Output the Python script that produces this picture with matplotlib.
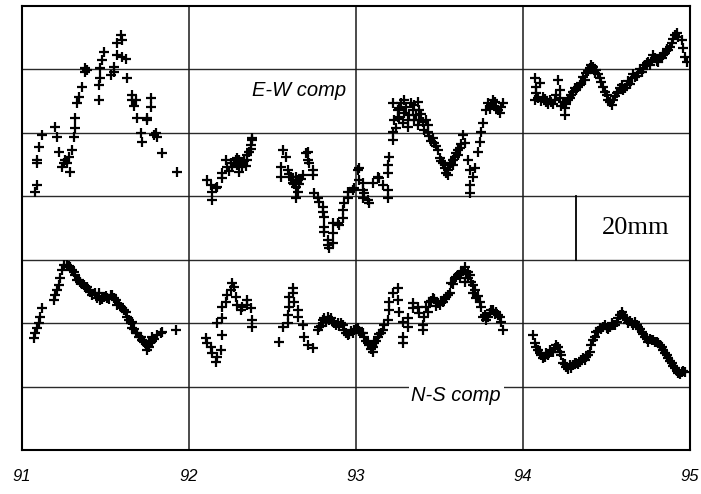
import matplotlib
matplotlib.use("Agg")
import matplotlib.pyplot as plt

# ---------------- data (decimal year, displacement in mm) ----------------
ew_years = [
    91.08, 91.09, 91.09, 91.09, 91.10, 91.12, 91.20, 91.21, 91.22, 91.24, 91.25, 91.26,
    91.27, 91.28, 91.29, 91.30, 91.31, 91.32, 91.32, 91.33, 91.34, 91.36, 91.38, 91.38,
    91.39, 91.46, 91.46, 91.47, 91.47, 91.48, 91.49, 91.53, 91.55, 91.55, 91.57, 91.57,
    91.59, 91.60, 91.60, 91.62, 91.63, 91.66, 91.66, 91.67, 91.68, 91.69, 91.71, 91.72,
    91.75, 91.75, 91.77, 91.77, 91.79, 91.80, 91.81, 91.84, 91.93,
    92.11, 92.13, 92.14, 92.14, 92.16, 92.17, 92.20, 92.20, 92.22, 92.23, 92.25, 92.26,
    92.28, 92.29, 92.29, 92.30, 92.31, 92.32, 92.32, 92.35, 92.35, 92.37, 92.38, 92.38,
    92.24, 92.27, 92.30, 92.33, 92.34, 92.36, 92.37,
    92.55, 92.55, 92.56, 92.58, 92.59, 92.61, 92.62, 92.62, 92.64, 92.64, 92.65, 92.65,
    92.60, 92.63, 92.64, 92.66, 92.67,
    92.68, 92.70, 92.71, 92.71, 92.72, 92.74, 92.74, 92.75, 92.77, 92.78, 92.80, 92.80,
    92.81, 92.81, 92.81, 92.83, 92.83, 92.84, 92.86, 92.86, 92.86, 92.89, 92.90, 92.92,
    92.92, 92.93, 92.95, 92.95, 92.98, 92.99, 93.01, 93.02, 93.02, 93.04, 93.04, 93.04,
    93.05, 93.07, 93.08, 93.10, 93.13, 93.14, 93.16, 93.19, 93.19, 93.19, 93.19, 93.20,
    93.22, 93.22, 93.23, 93.22, 93.25, 93.25, 93.26, 93.28, 93.29, 93.29, 93.31, 93.32,
    93.34, 93.35, 93.35, 93.37, 93.38, 93.38, 93.40, 93.43, 93.43, 93.46, 93.47, 93.49,
    93.24, 93.26, 93.27, 93.30, 93.31, 93.33, 93.36, 93.37, 93.39, 93.41, 93.42, 93.44,
    93.45, 93.48, 93.51, 93.53, 93.54, 93.56, 93.57, 93.60, 93.63,
    93.50, 93.52, 93.55, 93.55, 93.58, 93.58, 93.59, 93.61, 93.61, 93.62, 93.64, 93.65,
    93.67, 93.68, 93.70, 93.68, 93.68, 93.71, 93.73, 93.74, 93.75, 93.76, 93.78, 93.79,
    93.81, 93.83, 93.85, 93.86, 93.87, 93.88, 93.80, 93.82, 93.84,
    94.07, 94.08, 94.09, 94.07, 94.10, 94.12, 94.14, 94.17, 94.19, 94.21, 94.22, 94.22,
    94.24, 94.25, 94.25, 94.27, 94.29, 94.31, 94.33, 94.35, 94.37, 94.38, 94.40, 94.42,
    94.44, 94.46, 94.48, 94.50, 94.52, 94.54, 94.56, 94.58, 94.60, 94.62, 94.65, 94.67,
    94.69, 94.71, 94.73, 94.75, 94.77, 94.79, 94.81, 94.83, 94.85, 94.87, 94.89, 94.91,
    94.93, 94.95, 94.96, 94.97, 94.98,
    94.08, 94.11, 94.13, 94.15, 94.16, 94.18, 94.20, 94.23, 94.26, 94.28, 94.30, 94.32,
    94.34, 94.36, 94.39, 94.41, 94.43, 94.45, 94.47, 94.49, 94.51, 94.53, 94.55, 94.57,
    94.59, 94.61, 94.63, 94.64, 94.66, 94.68, 94.70, 94.72, 94.74, 94.76, 94.78, 94.80,
    94.82, 94.84, 94.86, 94.88, 94.90, 94.92,
]
ew_mm = [
    81.3, 83.6, 91.4, 90.5, 95.5, 99.3, 101.8, 98.7, 94.0, 89.2, 90.5, 91.4,
    90.5, 92.4, 87.7, 94.6, 98.7, 101.5, 104.7, 109.4, 111.3, 114.5, 120.4, 119.2,
    119.8, 110.4, 115.1, 117.3, 120.4, 123.0, 125.5, 118.2, 119.2, 120.8, 124.5, 128.3,
    130.8, 129.3, 123.9, 123.3, 117.3, 111.9, 110.4, 108.5, 110.4, 104.7, 99.9, 97.1,
    104.0, 104.7, 108.1, 111.0, 99.3, 99.9, 98.7, 93.6, 87.7,
    85.1, 83.6, 81.3, 78.8, 82.6, 82.9, 85.8, 87.3, 91.4, 89.2, 90.5, 89.2,
    91.4, 89.9, 92.1, 87.7, 90.5, 90.8, 89.2, 91.4, 93.0, 96.2, 97.7, 98.4,
    88.0, 90.5, 91.5, 91.0, 89.5, 94.0, 95.0,
    89.2, 86.1, 94.6, 92.4, 88.3, 86.1, 84.2, 85.1, 82.9, 79.5, 81.3, 85.1,
    87.0, 84.0, 86.0, 84.0, 85.5,
    86.7, 93.6, 94.0, 91.4, 90.5, 88.3, 86.7, 81.0, 79.5, 78.2, 76.6, 75.0,
    73.5, 70.3, 68.7, 66.2, 64.6, 63.7, 65.3, 68.4, 71.6, 71.6, 70.9, 73.1,
    75.7, 77.9, 79.5, 81.3, 82.0, 82.6, 88.3, 88.9, 85.1, 84.2, 82.0, 79.5,
    81.0, 78.8, 77.9, 84.2, 86.1, 85.8, 83.6, 82.0, 79.5, 87.3, 89.9, 92.4,
    97.7, 100.3, 104.0, 109.4, 107.2, 105.0, 107.8, 103.1, 110.4, 106.3, 104.0, 105.6,
    107.2, 104.0, 108.8, 109.7, 107.2, 104.0, 103.4, 102.5, 100.3, 98.4, 96.8, 94.6,
    101.5, 104.5, 109.5, 108.0, 102.0, 109.5, 105.5, 102.5, 106.0, 101.0, 104.0, 99.0,
    97.5, 96.0, 91.0, 89.0, 87.5, 90.0, 90.5, 93.5, 96.5,
    92.1, 90.5, 88.3, 86.7, 91.4, 89.9, 92.4, 94.6, 93.0, 95.2, 99.3, 96.8,
    91.4, 88.3, 86.1, 83.6, 81.0, 88.9, 94.0, 97.1, 100.3, 103.1, 107.2, 109.4,
    108.8, 109.7, 107.2, 106.3, 108.1, 109.4, 107.5, 110.5, 108.0,
    117.3, 114.5, 111.0, 110.4, 115.7, 111.3, 109.7, 109.7, 110.4, 116.7, 113.5, 111.0,
    109.7, 107.8, 105.6, 110.4, 111.9, 114.1, 114.5, 115.7, 116.7, 118.9, 120.4, 120.8,
    119.8, 117.3, 114.5, 111.9, 109.7, 110.4, 112.6, 114.1, 113.5, 115.1, 117.3, 117.6,
    118.9, 119.2, 121.4, 122.3, 123.0, 123.6, 122.3, 123.6, 125.2, 126.1, 128.3, 130.8,
    130.2, 129.3, 126.8, 123.9, 122.3,
    112.5, 110.0, 110.8, 109.0, 110.5, 109.0, 112.0, 108.5, 109.0, 111.0, 113.0, 113.5,
    115.0, 117.5, 119.5, 121.5, 119.0, 118.5, 116.0, 113.0, 110.5, 108.8, 111.5, 113.0,
    115.0, 114.0, 116.5, 115.5, 118.5, 118.0, 120.0, 120.0, 122.0, 121.5, 124.5, 122.8,
    124.0, 124.5, 126.5, 127.0, 129.5, 131.5,
]

ns_years = [
    91.07, 91.08, 91.09, 91.10, 91.11, 91.12, 91.19, 91.20, 91.21, 91.22, 91.23, 91.24,
    91.25, 91.27, 91.29, 91.30, 91.32, 91.33, 91.35, 91.37, 91.39, 91.41, 91.44, 91.46,
    91.47, 91.49, 91.51, 91.54, 91.56, 91.57, 91.60, 91.62, 91.63, 91.66, 91.66, 91.69,
    91.71, 91.72, 91.75, 91.75, 91.77, 91.78, 91.81, 91.83, 91.84, 91.92,
    91.28, 91.31, 91.34, 91.36, 91.38, 91.40, 91.42, 91.45, 91.48, 91.50, 91.52, 91.53,
    91.55, 91.58, 91.59, 91.61, 91.64, 91.65, 91.67, 91.68, 91.70, 91.73, 91.74, 91.76,
    91.78, 91.79, 91.76,
    92.10, 92.11, 92.13, 92.14, 92.16, 92.17, 92.19, 92.17, 92.20, 92.20, 92.20, 92.22,
    92.23, 92.25, 92.26, 92.27, 92.28, 92.29, 92.31, 92.32, 92.35, 92.35, 92.37, 92.38,
    92.38, 92.54, 92.56, 92.59, 92.59, 92.60, 92.60, 92.62, 92.62, 92.63, 92.65, 92.65,
    92.68, 92.69, 92.71, 92.74, 92.77, 92.78, 92.80, 92.83, 92.84, 92.86, 92.89, 92.92,
    92.93, 92.95, 92.98, 92.99, 93.01, 93.04, 93.05, 93.07, 93.10, 93.10, 93.11, 93.13,
    92.79, 92.81, 92.82, 92.85, 92.87, 92.88, 92.90, 92.91, 92.94, 92.96, 92.97, 93.00,
    93.02, 93.03, 93.06, 93.08, 93.09, 93.12, 93.14, 93.15,
    93.16, 93.17, 93.19, 93.20, 93.20, 93.22, 93.25, 93.25, 93.26, 93.28, 93.28, 93.28,
    93.31, 93.31, 93.34, 93.34, 93.37, 93.38, 93.40, 93.40, 93.43, 93.44, 93.46, 93.49,
    93.50, 93.52, 93.54, 93.56, 93.57, 93.59, 93.61, 93.62, 93.63, 93.65, 93.65, 93.67,
    93.67, 93.68, 93.70, 93.70, 93.72, 93.74, 93.75, 93.76, 93.78, 93.80, 93.81, 93.84,
    93.86, 93.87, 93.88,
    93.41, 93.42, 93.45, 93.47, 93.48, 93.51, 93.53, 93.55, 93.58, 93.60, 93.64, 93.66,
    93.69, 93.71, 93.73, 93.77, 93.79, 93.82, 93.83, 93.85,
    94.06, 94.07, 94.09, 94.11, 94.13, 94.15, 94.17, 94.19, 94.21, 94.23, 94.24, 94.26,
    94.28, 94.30, 94.32, 94.34, 94.36, 94.38, 94.40, 94.41, 94.42, 94.44, 94.46, 94.48,
    94.50, 94.52, 94.54, 94.56, 94.58, 94.59, 94.61, 94.63, 94.65, 94.67, 94.69, 94.71,
    94.73, 94.75, 94.77, 94.79, 94.81, 94.83, 94.85, 94.87, 94.89, 94.91, 94.93, 94.95,
    94.97,
    94.08, 94.10, 94.12, 94.14, 94.16, 94.18, 94.20, 94.22, 94.25, 94.27, 94.29, 94.31,
    94.33, 94.35, 94.37, 94.39, 94.43, 94.45, 94.47, 94.49, 94.51, 94.53, 94.55, 94.57,
    94.60, 94.62, 94.64, 94.66, 94.68, 94.70, 94.72, 94.74, 94.76, 94.78, 94.80, 94.82,
    94.84, 94.86, 94.88, 94.90, 94.92, 94.94, 94.96,
]
ns_mm = [
    35.3, 36.9, 38.5, 40.0, 41.9, 44.8, 47.3, 48.9, 50.4, 52.0, 54.2, 56.8,
    58.3, 58.3, 57.7, 56.8, 55.2, 53.6, 53.0, 52.0, 51.4, 49.8, 49.5, 49.5,
    47.3, 48.2, 47.9, 48.9, 47.3, 45.7, 44.8, 43.5, 41.9, 40.4, 38.5, 36.9,
    35.6, 34.7, 33.1, 31.5, 34.1, 35.6, 36.3, 36.9, 37.2, 37.8,
    58.0, 56.0, 53.5, 52.5, 51.5, 50.5, 49.0, 48.0, 47.5, 48.5, 47.5, 49.0,
    48.0, 46.0, 45.0, 44.0, 41.0, 40.0, 38.0, 37.0, 35.5, 34.0, 33.5, 32.5,
    34.5, 35.0, 34.0,
    35.3, 33.7, 32.5, 30.6, 27.7, 29.3, 31.5, 40.0, 41.6, 36.3, 45.1, 46.7,
    48.9, 50.4, 52.7, 51.4, 48.2, 45.7, 44.1, 45.1, 45.7, 47.3, 44.8, 41.0,
    38.8, 34.1, 38.8, 40.0, 42.6, 45.1, 48.2, 51.1, 49.5, 46.7, 44.1, 41.9,
    39.4, 35.6, 33.1, 32.2, 37.8, 38.8, 41.0, 41.9, 41.0, 40.4, 40.0, 39.4,
    37.8, 36.3, 36.9, 37.8, 38.5, 36.9, 35.6, 33.7, 32.5, 30.9, 33.7, 35.6,
    39.0, 41.5, 40.5, 41.5, 40.0, 39.5, 39.0, 40.0, 37.0, 36.5, 37.5, 38.0,
    37.5, 37.0, 34.5, 33.0, 32.0, 34.5, 36.5, 37.0,
    37.8, 39.4, 41.0, 44.1, 46.7, 49.5, 51.1, 47.3, 43.5, 40.4, 35.6, 33.7,
    38.8, 41.6, 44.8, 46.3, 45.1, 43.2, 39.4, 37.8, 43.5, 46.7, 47.9, 46.3,
    45.7, 46.7, 48.2, 49.5, 52.7, 54.2, 55.2, 54.2, 56.1, 57.7, 53.0, 56.1,
    54.2, 55.2, 52.0, 49.5, 47.9, 46.7, 45.1, 41.9, 41.0, 43.2, 44.1, 43.5,
    41.9, 40.4, 37.8,
    42.0, 45.0, 47.0, 47.5, 45.5, 47.0, 47.5, 49.0, 52.5, 54.5, 56.5, 55.5,
    53.0, 50.5, 48.5, 42.5, 42.0, 44.0, 43.0, 42.5,
    36.3, 33.7, 31.5, 30.0, 29.3, 30.0, 30.9, 32.2, 32.5, 30.0, 27.4, 26.2,
    26.8, 26.8, 27.4, 27.7, 29.0, 29.3, 30.9, 33.1, 34.7, 37.2, 38.5, 38.8,
    38.5, 38.8, 39.4, 40.4, 42.6, 43.5, 41.6, 40.0, 40.0, 40.4, 38.8, 37.2,
    35.6, 34.1, 34.7, 34.1, 33.7, 32.5, 30.6, 29.0, 27.4, 25.9, 24.3, 24.6,
    24.6,
    32.5, 30.5, 29.0, 30.5, 31.5, 31.0, 33.0, 31.0, 27.0, 25.5, 26.0, 27.5,
    27.0, 28.5, 28.5, 30.0, 35.5, 37.5, 38.0, 39.5, 38.0, 40.0, 39.5, 41.5,
    42.5, 41.0, 40.8, 39.5, 39.5, 38.0, 36.5, 35.0, 35.0, 34.8, 34.0, 33.0,
    31.5, 30.0, 28.0, 26.5, 25.0, 24.0, 25.0,
]

year_ticks = [91, 92, 93, 94, 95]
year_labels = ["91", "92", "93", "94", "95"]
grid_mm = [20, 40, 60, 80, 100, 120]
scale_bar = (60, 80)   # 20 mm bar
scale_year = 94.32

# ---------------- figure ----------------
fig = plt.figure(figsize=(7.01, 4.94), dpi=100)
ax = fig.add_axes([22 / 701, 44 / 494, 668 / 701, 444 / 494])
ax.set_xlim(91, 95)
ax.set_ylim(0, 140)

for g in grid_mm:
    ax.axhline(g, color="#2a2a2a", lw=1.0, zorder=1)
for t in year_ticks[1:-1]:
    ax.axvline(t, color="#1a1a1a", lw=1.1, zorder=1)

mk = dict(marker="+", ls="none", color="black", ms=7, mew=1.6, zorder=3)
ax.plot(ew_years, ew_mm, **mk)
ax.plot(ns_years, ns_mm, **mk)

# scale bar
ax.plot([scale_year, scale_year], list(scale_bar), color="black", lw=1.3, zorder=2)
ax.text(94.47, 70, "20mm", family="Liberation Serif", fontsize=19,
        ha="left", va="center", zorder=4)

ax.text(92.66, 113.5, "E-W comp", family="Liberation Sans", style="italic",
        fontsize=14.5, ha="center", va="center", zorder=4)
ax.text(93.60, 17.3, "N-S comp", family="Liberation Sans", style="italic",
        fontsize=14.5, ha="center", va="center", zorder=4,
        bbox=dict(facecolor="white", edgecolor="none", pad=2))

ax.set_xticks(year_ticks)
ax.set_xticklabels(year_labels, family="Liberation Sans", style="italic", fontsize=12)
ax.set_yticks([])
ax.tick_params(axis="x", length=0, pad=14)
for s in ax.spines.values():
    s.set_linewidth(1.5)
    s.set_color("black")

fig.savefig("out.png", dpi=100)
